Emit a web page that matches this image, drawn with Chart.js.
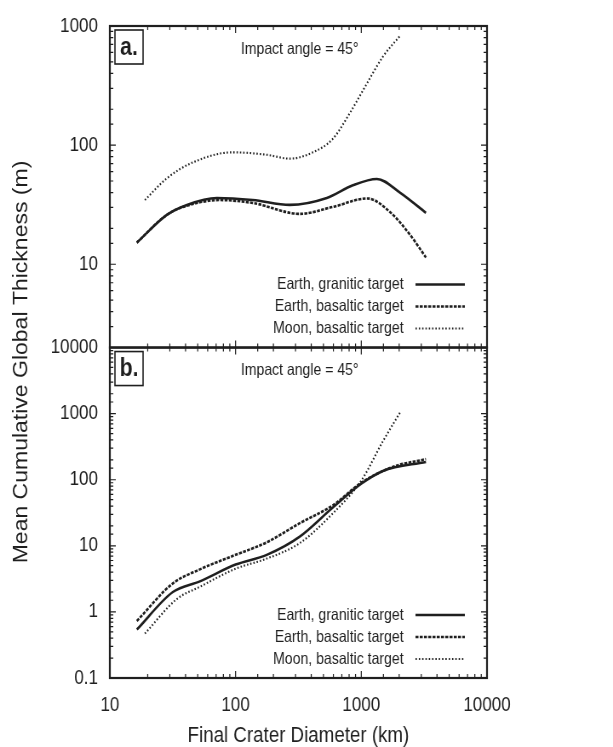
<!DOCTYPE html>
<html>
<head>
<meta charset="utf-8">
<script src="https://cdn.jsdelivr.net/npm/chart.js@4.4.0/dist/chart.umd.min.js"></script>
<style>
html,body{margin:0;padding:0;background:#fff;overflow:hidden;}
canvas{display:block;}
</style>
</head>
<body>
<!-- drawn on a 720 wide bitmap and shown at 613 wide, like the source figure -->
<canvas id="craterChart" width="720" height="747" style="width:613px;height:747px;"></canvas>
<script>
// panel a (top)
const topGraniticD = [16.4, 28.4, 41, 71, 137, 270, 532, 857, 1330, 2030, 3270];
const topGraniticT = [15.2, 26, 31.5, 36, 34.6, 31.5, 36, 46, 52, 40, 27];
const topBasalticD = [16.4, 28.4, 41, 75, 137, 324, 594, 1120, 1690, 2440, 3270];
const topBasalticT = [15.2, 26, 31, 34.6, 32.7, 26.5, 30.3, 35.7, 27.5, 17.7, 11.4];
const topMoonD = [19, 28.4, 45.7, 95, 177, 270, 412, 594, 811, 1110, 1486, 2030];
const topMoonT = [34.6, 52.7, 71.6, 87, 83, 77, 87, 113, 186, 330, 553, 826];

// panel b (bottom)
const botGraniticD = [16.4, 31.7, 52, 100, 177, 324, 594, 1000, 1486, 3270];
const botGraniticT = [0.54, 2.0, 2.9, 5.2, 7.3, 13.8, 38, 87, 136, 186];
const botBasalticD = [16.4, 31.7, 52, 100, 177, 324, 594, 1000, 1780, 3270];
const botBasalticT = [0.73, 2.7, 4.4, 7.3, 11.3, 22, 41, 90, 156, 205];
const botMoonD = [19, 34, 52, 100, 177, 324, 594, 1000, 1486, 2030];
const botMoonT = [0.47, 1.56, 2.4, 4.5, 6.4, 11, 31, 97, 382, 1035];

const seriesNames = ['Earth, granitic target', 'Earth, basaltic target', 'Moon, basaltic target'];
const panelTags = ['a.', 'b.'];
const noteText = 'Impact angle = 45\u00b0';

const ink = '#1f1f1f';
const FONT = "'Liberation Sans', Arial, Helvetica, sans-serif";

// line style per series: solid, dashed, dotted
const lineStyles = [
  {borderWidth: 2.6, borderDash: []},
  {borderWidth: 2.6, borderDash: [3.5, 1.5]},
  {borderWidth: 2.1, borderDash: [1.6, 2.3]}
];

const pts = (xs, ys) => xs.map((x, i) => ({x: x, y: ys[i]}));
const isMajor = v => Math.abs(Math.log10(v) - Math.round(Math.log10(v))) < 1e-6;
const logLabel = v => isMajor(v) ? String(Number(v.toPrecision(6))) : '';

function mkSet(i, data, axis) {
  return {
    label: seriesNames[i],
    data: data,
    yAxisID: axis,
    borderColor: ink,
    borderWidth: lineStyles[i].borderWidth,
    borderDash: lineStyles[i].borderDash,
    pointRadius: 0,
    fill: false,
    cubicInterpolationMode: 'monotone'
  };
}

// frame, inward ticks, legends and panel notes
const framePlugin = {
  id: 'frame',
  afterDraw(chart) {
    const ctx = chart.ctx;
    const xs = chart.scales.x, yt = chart.scales.yTop, yb = chart.scales.yBot;
    const L = chart.chartArea.left, R = chart.chartArea.right;
    const panels = [yt, yb];
    ctx.save();
    ctx.strokeStyle = ink;
    ctx.lineWidth = 2.2;
    panels.forEach(p => ctx.strokeRect(L, p.top, R - L, p.bottom - p.top));

    ctx.lineWidth = 1.2;
    ctx.beginPath();
    xs.ticks.forEach(t => {
      const px = xs.getPixelForValue(t.value);
      if (px <= L + 1 || px >= R - 1) return;
      const len = isMajor(t.value) ? 7 : 4;
      panels.forEach(p => {
        ctx.moveTo(px, p.top); ctx.lineTo(px, p.top + len);
        ctx.moveTo(px, p.bottom); ctx.lineTo(px, p.bottom - len);
      });
    });
    panels.forEach(p => {
      p.ticks.forEach(t => {
        const py = p.getPixelForValue(t.value);
        if (py <= p.top + 1 || py >= p.bottom - 1) return;
        const len = isMajor(t.value) ? 7 : 4;
        ctx.moveTo(L, py); ctx.lineTo(L + len, py);
        ctx.moveTo(R, py); ctx.lineTo(R - len, py);
      });
    });
    ctx.stroke();

    // y title across both panels
    ctx.fillStyle = ink;
    ctx.font = '23px ' + FONT;
    ctx.textAlign = 'center';
    ctx.textBaseline = 'middle';
    ctx.save();
    ctx.translate(26, 362);
    ctx.rotate(-Math.PI / 2);
    ctx.fillText('Mean Cumulative Global Thickness (m)', 0, 0);
    ctx.restore();

    panels.forEach((p, k) => {
      // panel tag box
      ctx.lineWidth = 1.6;
      ctx.strokeRect(135, p.top + 4, 33, 34);
      ctx.font = 'bold 25px ' + FONT;
      ctx.textAlign = 'center';
      ctx.fillText(panelTags[k], 151.5, p.top + 22);
      ctx.font = '16.5px ' + FONT;
      ctx.fillText(noteText, 352, p.top + 23);

      // legend rows
      const rows = [p.bottom - 63, p.bottom - 41, p.bottom - 19];
      rows.forEach((ry, i) => {
        ctx.font = '16.5px ' + FONT;
        ctx.textAlign = 'right';
        ctx.fillText(seriesNames[i], 474, ry);
        ctx.save();
        ctx.lineWidth = lineStyles[i].borderWidth;
        ctx.setLineDash(lineStyles[i].borderDash);
        ctx.beginPath();
        ctx.moveTo(488, ry);
        ctx.lineTo(546, ry);
        ctx.stroke();
        ctx.restore();
      });
    });
    ctx.restore();
  }
};

const ctx = document.getElementById('craterChart').getContext('2d');
const yTickOpts = {
  callback: logLabel,
  autoSkip: false,
  padding: 14,
  color: ink,
  font: {family: FONT, size: 20}
};

new Chart(ctx, {
  type: 'line',
  data: {
    datasets: [
      mkSet(0, pts(topGraniticD, topGraniticT), 'yTop'),
      mkSet(1, pts(topBasalticD, topBasalticT), 'yTop'),
      mkSet(2, pts(topMoonD, topMoonT), 'yTop'),
      mkSet(0, pts(botGraniticD, botGraniticT), 'yBot'),
      mkSet(1, pts(botBasalticD, botBasalticT), 'yBot'),
      mkSet(2, pts(botMoonD, botMoonT), 'yBot')
    ]
  },
  options: {
    responsive: false,
    animation: false,
    devicePixelRatio: 1,
    layout: {padding: {top: 19, right: 148, left: 0, bottom: 0}},
    plugins: {legend: {display: false}, tooltip: {enabled: false}},
    scales: {
      x: {
        type: 'logarithmic',
        min: 10, max: 10000,
        grid: {display: false, drawTicks: false},
        border: {display: false},
        ticks: {callback: logLabel, autoSkip: false, maxRotation: 0, padding: 15, color: ink, font: {family: FONT, size: 20}},
        title: {display: true, text: 'Final Crater Diameter (km)', color: ink, font: {family: FONT, size: 22, lineHeight: 1}, padding: {top: 0, bottom: 0}},
        afterFit: s => { s.height = 69; }
      },
      // stacked left axes are placed last-defined first, so the bottom panel comes first here
      yBot: {
        type: 'logarithmic',
        position: 'left',
        stack: 'panels',
        stackWeight: 334,
        min: 0.1, max: 10000,
        grid: {display: false, drawTicks: false},
        border: {display: false},
        ticks: yTickOpts,
        afterFit: s => { s.width = 129; }
      },
      yTop: {
        type: 'logarithmic',
        position: 'left',
        stack: 'panels',
        stackWeight: 325,
        min: 2, max: 1000,
        grid: {display: false, drawTicks: false},
        border: {display: false},
        ticks: yTickOpts,
        afterFit: s => { s.width = 129; }
      }
    }
  },
  plugins: [framePlugin]
});
</script>
</body>
</html>
